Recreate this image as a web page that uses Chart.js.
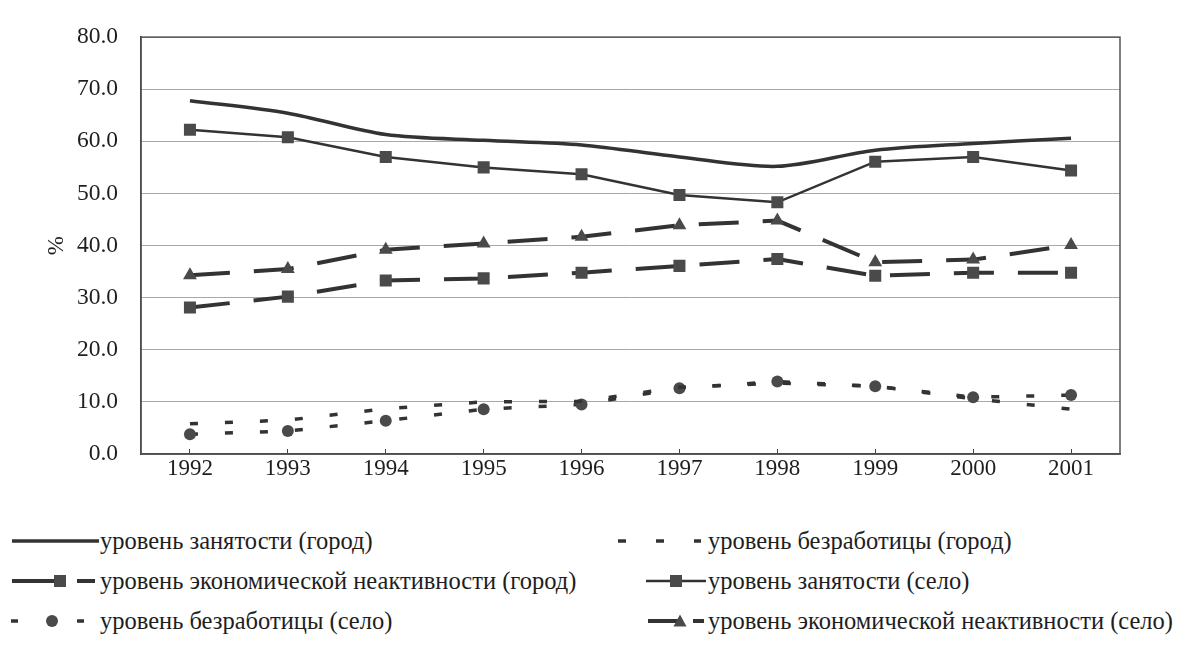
<!DOCTYPE html>
<html><head><meta charset="utf-8">
<script src="https://cdn.jsdelivr.net/npm/chart.js@4.4.1/dist/chart.umd.min.js"></script>
<style>
html,body{margin:0;padding:0;background:#fff;}
body{width:1185px;height:654px;overflow:hidden;position:relative;font-family:'Liberation Serif','Times New Roman',serif;}
#wrap{position:absolute;left:0;top:0;width:1185px;height:500px;}
.leg{position:absolute;font-size:24.5px;line-height:30px;color:#1e1e1e;white-space:nowrap;}
#samples{position:absolute;left:0;top:500px;}
</style></head><body>
<div id="wrap"><canvas id="c"></canvas></div>
<svg id="samples" width="1185" height="154"></svg>
<script>
// ---- data ----
const years = ['1992','1993','1994','1995','1996','1997','1998','1999','2000','2001'];
const yTicks = [0,10,20,30,40,50,60,70,80];
const employmentCity   = [67.8, 65.4, 61.3, 60.2, 59.3, 57.0, 55.2, 58.3, 59.6, 60.6];
const unemploymentCity = [5.8, 6.5, 8.7, 10.0, 10.1, 12.8, 13.6, 13.0, 10.6, 8.6];
const inactivityCity   = [28.1, 30.2, 33.3, 33.7, 34.8, 36.1, 37.4, 34.2, 34.8, 34.8];
const employmentVillage   = [62.2, 60.8, 57.0, 55.0, 53.7, 49.7, 48.3, 56.1, 57.0, 54.4];
const unemploymentVillage = [3.8, 4.4, 6.4, 8.6, 9.5, 12.6, 13.9, 13.0, 10.9, 11.3];
const inactivityVillage   = [34.3, 35.5, 39.2, 40.4, 41.7, 43.9, 44.8, 36.8, 37.3, 40.1];
const seriesNames = [
  'уровень занятости (город)',
  'уровень безработицы (город)',
  'уровень экономической неактивности (город)',
  'уровень занятости (село)',
  'уровень безработицы (село)',
  'уровень экономической неактивности (село)'
];
const yTitle = '%';

const LINE = '#333333';
const MARK = '#4a4a4a';
const FONT = "'Liberation Serif','Times New Roman',serif";

const frame = {
  id:'frame',
  beforeDatasetsDraw(chart){
    const {ctx, chartArea:a} = chart;
    ctx.save();
    ctx.strokeStyle = '#555';
    ctx.lineWidth = 1.5;
    ctx.strokeRect(a.left, a.top, a.right - a.left, a.bottom - a.top);
    ctx.restore();
  }
};

new Chart(document.getElementById('c'), {
  type:'line',
  data:{
    labels: years,
    datasets:[
      {label:seriesNames[0], data:employmentCity, borderColor:LINE, borderWidth:3.5, pointRadius:0, tension:0.3},
      {label:seriesNames[1], data:unemploymentCity, borderColor:LINE, borderWidth:3.5, borderDash:[8,27], pointRadius:0, tension:0},
      {label:seriesNames[2], data:inactivityCity, borderColor:LINE, borderWidth:4, borderDash:[40,24], pointStyle:'rect', pointRadius:8.5, pointBackgroundColor:MARK, pointBorderColor:MARK, pointBorderWidth:0, tension:0},
      {label:seriesNames[3], data:employmentVillage, borderColor:LINE, borderWidth:2.5, pointStyle:'rect', pointRadius:8.5, pointBackgroundColor:MARK, pointBorderColor:MARK, pointBorderWidth:0, tension:0},
      {label:seriesNames[4], data:unemploymentVillage, borderColor:LINE, borderWidth:3.5, borderDash:[8,27], pointStyle:'circle', pointRadius:6, pointBackgroundColor:MARK, pointBorderColor:MARK, pointBorderWidth:0, tension:0},
      {label:seriesNames[5], data:inactivityVillage, borderColor:LINE, borderWidth:4, borderDash:[40,24], pointStyle:'triangle', pointRadius:8, pointBackgroundColor:MARK, pointBorderColor:MARK, pointBorderWidth:0, tension:0}
    ]
  },
  options:{
    responsive:true, maintainAspectRatio:false, animation:false,
    layout:{padding:{top:23, right:65, left:0, bottom:0}},
    plugins:{legend:{display:false}, tooltip:{enabled:false}},
    scales:{
      x:{
        offset:true,
        grid:{display:true, drawOnChartArea:false, drawTicks:true, tickLength:-5, color:'#444', lineWidth:1},
        border:{display:true, color:'#333', width:1.5},
        ticks:{font:{family:FONT, size:23}, color:'#1e1e1e', padding:6, maxRotation:0, autoSkip:false},
        afterFit(s){ s.height = 46; }
      },
      y:{
        min:0, max:80,
        afterBuildTicks(s){ s.ticks = yTicks.map(v=>({value:v})); },
        ticks:{font:{family:FONT, size:23.5}, color:'#1e1e1e', padding:23, callback:v=>Number(v).toFixed(1)},
        grid:{color:'#a8a8a8', lineWidth:1, drawTicks:false},
        border:{display:true, color:'#333', width:1.5},
        title:{display:true, text:yTitle, font:{family:FONT, size:23}, color:'#1e1e1e', padding:{top:43, bottom:0}},
        afterFit(s){ s.width = 141; }
      }
    }
  },
  plugins:[frame]
});

// ---- legend (HTML text + SVG samples) ----
const rows = [41, 81, 121]; // y centres relative to svg top (500)
const legendSlots = [
  {name:0, col:0, row:0}, {name:1, col:1, row:0},
  {name:2, col:0, row:1}, {name:3, col:1, row:1},
  {name:4, col:0, row:2}, {name:5, col:1, row:2}
];
const textX = [100, 708];
const svg = document.getElementById('samples');
const NS = 'http://www.w3.org/2000/svg';
function line(x1,x2,y,w){ const l=document.createElementNS(NS,'line'); l.setAttribute('x1',x1); l.setAttribute('x2',x2); l.setAttribute('y1',y); l.setAttribute('y2',y); l.setAttribute('stroke',LINE); l.setAttribute('stroke-width',w); svg.appendChild(l); }
function rect(cx,cy,s){ const r=document.createElementNS(NS,'rect'); r.setAttribute('x',cx-s/2); r.setAttribute('y',cy-s/2); r.setAttribute('width',s); r.setAttribute('height',s); r.setAttribute('fill',MARK); svg.appendChild(r); }
function circ(cx,cy,rad){ const c=document.createElementNS(NS,'circle'); c.setAttribute('cx',cx); c.setAttribute('cy',cy); c.setAttribute('r',rad); c.setAttribute('fill',MARK); svg.appendChild(c); }
function tri(cx,cy,s){ const p=document.createElementNS(NS,'polygon'); p.setAttribute('points',`${cx-s/2},${cy+s*0.43} ${cx+s/2},${cy+s*0.43} ${cx},${cy-s*0.5}`); p.setAttribute('fill',MARK); svg.appendChild(p); }
const sampleDraw = [
  (x,y)=>{ line(x-88,x-1,y,3.5); },
  (x,y)=>{ line(x-90,x-82,y,3.5); line(x-52,x-44,y,3.5); line(x-14,x-7,y,3.5); },
  (x,y)=>{ line(x-88,x-44,y,4); rect(x-40,y,12); line(x-23,x-5,y,4); },
  (x,y)=>{ line(x-62,x-2,y,2.5); rect(x-32,y,12); },
  (x,y)=>{ line(x-89,x-82,y,3.5); circ(x-48,y,6); line(x-23,x-16,y,3.5); },
  (x,y)=>{ line(x-60,x-26,y,4); tri(x-28,y,13); line(x-15,x-4,y,4); }
];
legendSlots.forEach(s=>{
  const x = textX[s.col], y = rows[s.row];
  sampleDraw[s.name](x,y);
  const d = document.createElement('div');
  d.className = 'leg';
  d.style.left = x + 'px';
  d.style.top = (500 + y - 15) + 'px';
  d.textContent = seriesNames[s.name];
  document.body.appendChild(d);
});
</script>
</body></html>
